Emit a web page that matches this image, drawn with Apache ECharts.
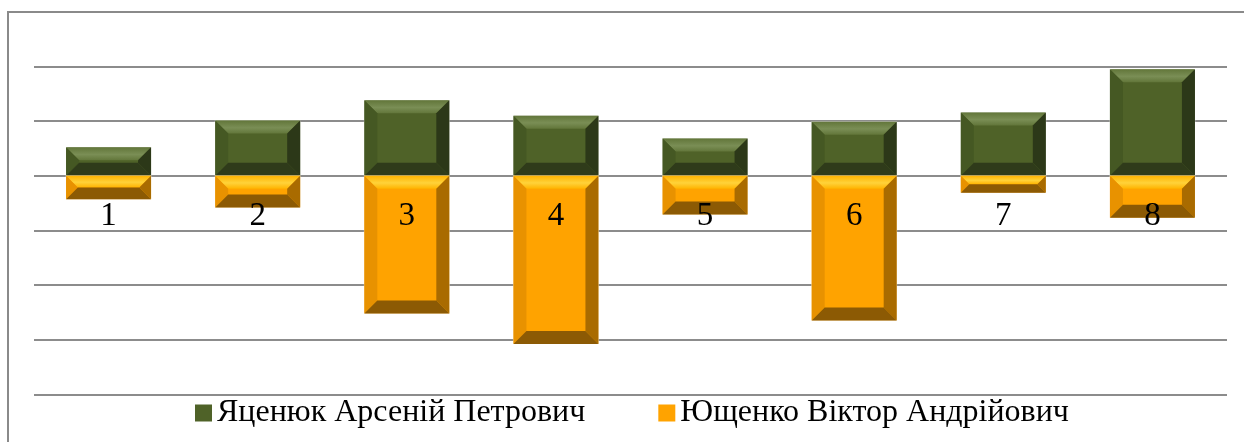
<!DOCTYPE html>
<html>
<head>
<meta charset="utf-8">
<script src="https://cdn.jsdelivr.net/npm/echarts@6/dist/echarts.min.js"></script>
<style>
  html, body { margin: 0; padding: 0; background: #fff; }
  #main { width: 1244px; height: 442px; }
</style>
</head>
<body>
<div id="main"></div>
<script>
// categories and values (one grid step = 10)
var categories = ['1', '2', '3', '4', '5', '6', '7', '8'];
var seriesNames = ['Яценюк Арсеній Петрович', 'Ющенко Віктор Андрійович'];
var yatsenyuk = [5.2, 10.1, 13.8, 11.0, 6.8, 9.9, 11.6, 19.5];
var yushchenko = [-4.3, -5.8, -25.2, -30.8, -7.1, -26.5, -3.1, -7.7];

// bevel palettes: main, top, highlight, left, right, bottom
var greenPal = ['#4f6228', '#62763a', '#7a8e55', '#455823', '#2c3818', '#2f3b1a'];
var orangePal = ['#ffa300', '#ffb300', '#ffd23a', '#e89200', '#a96b00', '#8c5a04'];

function bevelBar(pal) {
  return function (params, api) {
    var x = api.value(0);
    var p0 = api.coord([x, 0]);
    var p1 = api.coord([x, api.value(1)]);
    var w = api.size([1, 0])[0] * 0.57;
    var L = p0[0] - w / 2, R = p0[0] + w / 2;
    var T = Math.min(p0[1], p1[1]), B = Math.max(p0[1], p1[1]);
    var h = B - T;
    var b = Math.min(13, h / 2, w / 2);
    return {
      type: 'group',
      children: [
        { type: 'rect', shape: { x: L, y: T, width: w, height: h }, style: { fill: pal[0], stroke: 'rgba(255,255,255,0.5)', lineWidth: 1 } },
        { type: 'polygon', shape: { points: [[L, T], [R, T], [R - b, T + b], [L + b, T + b]] },
          style: { fill: new echarts.graphic.LinearGradient(0, 0, 0, 1, [
            { offset: 0, color: pal[1] }, { offset: 0.55, color: pal[2] }, { offset: 1, color: pal[1] }]) } },
        { type: 'polygon', shape: { points: [[L, T], [L + b, T + b], [L + b, B - b], [L, B]] }, style: { fill: pal[3] } },
        { type: 'polygon', shape: { points: [[R, T], [R - b, T + b], [R - b, B - b], [R, B]] }, style: { fill: pal[4] } },
        { type: 'polygon', shape: { points: [[L, B], [R, B], [R - b, B - b], [L + b, B - b]] }, style: { fill: pal[5] } }
      ]
    };
  };
}

function toData(arr) {
  return arr.map(function (v, i) { return [i, v]; });
}

var gridTop = 66.5, gridHeight = 327.8;
// the category labels sit under the zero line (2 of 6 steps above it)
var zeroShift = gridHeight * 4 / 6;

var chart = echarts.init(document.getElementById('main'));
chart.setOption({
  animation: false,
  textStyle: { fontFamily: 'Liberation Serif, Times New Roman, serif' },
  graphic: [{
    type: 'rect', silent: true, z: -1,
    shape: { x: 8, y: 12, width: 1250, height: 450 },
    style: { fill: 'none', stroke: '#8a8a8a', lineWidth: 2 }
  }],
  grid: { left: 34, right: 17, top: gridTop, height: gridHeight, outerBoundsMode: 'none', containLabel: false },
  legend: {
    left: 190, top: 392,
    itemWidth: 17, itemHeight: 17, itemGap: 73,
    icon: 'rect',
    textStyle: { fontSize: 32, color: '#000', fontFamily: 'Liberation Serif' },
    data: seriesNames
  },
  xAxis: {
    type: 'category',
    data: categories,
    z: 10,
    position: 'bottom',
    offset: -zeroShift,
    axisLine: { show: false, onZero: false },
    axisTick: { show: false },
    splitLine: { show: false },
    axisLabel: { margin: 24, fontSize: 33, color: '#000', fontFamily: 'Liberation Serif' }
  },
  yAxis: {
    type: 'value',
    min: -40, max: 20, interval: 10,
    axisLabel: { show: false },
    axisLine: { show: false },
    axisTick: { show: false },
    splitLine: { lineStyle: { color: '#8c8c8c', width: 2 } }
  },
  series: [
    { name: seriesNames[0], type: 'custom', renderItem: bevelBar(greenPal), itemStyle: { color: greenPal[0] },
      encode: { x: 0, y: 1 }, data: toData(yatsenyuk) },
    { name: seriesNames[1], type: 'custom', renderItem: bevelBar(orangePal), itemStyle: { color: orangePal[0] },
      encode: { x: 0, y: 1 }, data: toData(yushchenko) }
  ]
});
</script>
</body>
</html>
